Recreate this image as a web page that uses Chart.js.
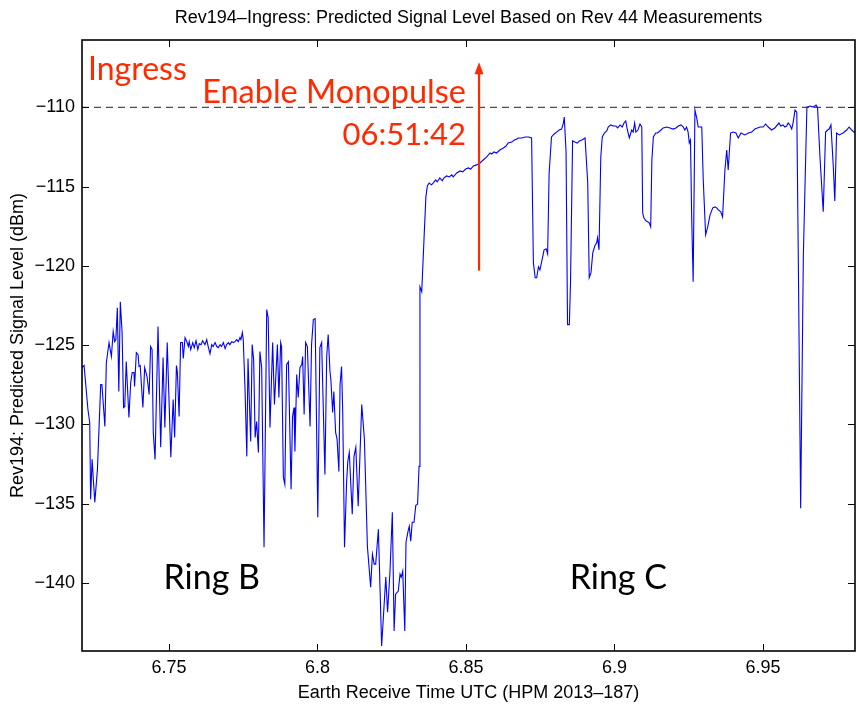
<!DOCTYPE html>
<html>
<head>
<meta charset="utf-8">
<script src="https://cdn.jsdelivr.net/npm/chart.js@4.4.0/dist/chart.umd.min.js"></script>
<style>
  html, body { margin: 0; padding: 0; background: #fff; }
</style>
</head>
<body>
<canvas id="chart" width="856" height="704"></canvas>
<script>
// Earth receive time (hours, HPM 2013-187)
const times = [
  6.7207, 6.7214, 6.7227, 6.7233, 6.7236, 6.7241, 6.7250, 6.7259, 6.7270, 6.7274,
  6.7284, 6.7289, 6.7298, 6.7306, 6.7312, 6.7317, 6.7321, 6.7326, 6.7331, 6.7336,
  6.7342, 6.7347, 6.7351, 6.7356, 6.7365, 6.7371, 6.7376, 6.7382, 6.7384, 6.7390,
  6.7396, 6.7399, 6.7403, 6.7412, 6.7418, 6.7426, 6.7433, 6.7438, 6.7443, 6.7447,
  6.7453, 6.7463, 6.7472, 6.7480, 6.7486, 6.7494, 6.7506, 6.7514, 6.7519, 6.7525,
  6.7528, 6.7534, 6.7539, 6.7545, 6.7548, 6.7554, 6.7560, 6.7565, 6.7568, 6.7573,
  6.7580, 6.7585, 6.7591, 6.7597, 6.7602, 6.7608, 6.7613, 6.7621, 6.7627, 6.7632,
  6.7638, 6.7644, 6.7649, 6.7655, 6.7661, 6.7666, 6.7672, 6.7677, 6.7683, 6.7689,
  6.7694, 6.7700, 6.7705, 6.7711, 6.7717, 6.7722, 6.7728, 6.7733, 6.7739, 6.7742,
  6.7747, 6.7750, 6.7756, 6.7762, 6.7766, 6.7770, 6.7775, 6.7780, 6.7785, 6.7790,
  6.7795, 6.7801, 6.7806, 6.7812, 6.7820, 6.7829, 6.7834, 6.7840, 6.7849, 6.7855,
  6.7865, 6.7870, 6.7876, 6.7879, 6.7885, 6.7890, 6.7896, 6.7902, 6.7911, 6.7916,
  6.7921, 6.7924, 6.7930, 6.7935, 6.7941, 6.7947, 6.7950, 6.7955, 6.7960, 6.7966,
  6.7975, 6.7980, 6.7986, 6.7992, 6.8001, 6.8008, 6.8014, 6.8025, 6.8031, 6.8036,
  6.8042, 6.8045, 6.8051, 6.8055, 6.8061, 6.8066, 6.8072, 6.8076, 6.8081, 6.8085,
  6.8091, 6.8098, 6.8102, 6.8107, 6.8117, 6.8123, 6.8129, 6.8137, 6.8149, 6.8158,
  6.8168, 6.8179, 6.8185, 6.8191, 6.8196, 6.8205, 6.8216, 6.8230, 6.8236, 6.8244,
  6.8252, 6.8258, 6.8263, 6.8272, 6.8278, 6.8282, 6.8287, 6.8294, 6.8298, 6.8305,
  6.8309, 6.8314, 6.8319, 6.8325, 6.8331, 6.8337, 6.8342, 6.8345, 6.8351, 6.8359,
  6.8365, 6.8370, 6.8376, 6.8384, 6.8390, 6.8398, 6.8403, 6.8412, 6.8420, 6.8426,
  6.8435, 6.8444, 6.8452, 6.8457, 6.8469, 6.8480, 6.8489, 6.8499, 6.8508, 6.8516,
  6.8525, 6.8536, 6.8547, 6.8558, 6.8570, 6.8581, 6.8587, 6.8594, 6.8603, 6.8614,
  6.8626, 6.8635, 6.8642, 6.8654, 6.8663, 6.8671, 6.8676, 6.8688, 6.8699, 6.8710,
  6.8721, 6.8727, 6.8733, 6.8738, 6.8744, 6.8749, 6.8755, 6.8763, 6.8770, 6.8775,
  6.8780, 6.8788, 6.8797, 6.8805, 6.8814, 6.8822, 6.8828, 6.8831, 6.8837, 6.8842,
  6.8848, 6.8852, 6.8859, 6.8867, 6.8875, 6.8882, 6.8890, 6.8901, 6.8910, 6.8915,
  6.8921, 6.8927, 6.8934, 6.8940, 6.8943, 6.8948, 6.8954, 6.8959, 6.8966, 6.8974,
  6.8979, 6.8987, 6.8996, 6.9005, 6.9011, 6.9019, 6.9026, 6.9032, 6.9038, 6.9043,
  6.9050, 6.9058, 6.9063, 6.9068, 6.9072, 6.9079, 6.9086, 6.9092, 6.9095, 6.9099,
  6.9106, 6.9112, 6.9117, 6.9122, 6.9126, 6.9131, 6.9139, 6.9145, 6.9153, 6.9164,
  6.9176, 6.9187, 6.9198, 6.9207, 6.9215, 6.9224, 6.9232, 6.9237, 6.9243, 6.9248,
  6.9252, 6.9256, 6.9260, 6.9265, 6.9271, 6.9277, 6.9282, 6.9288, 6.9294, 6.9299,
  6.9307, 6.9314, 6.9322, 6.9331, 6.9339, 6.9344, 6.9350, 6.9358, 6.9364, 6.9372,
  6.9378, 6.9383, 6.9391, 6.9400, 6.9409, 6.9417, 6.9426, 6.9439, 6.9451, 6.9462,
  6.9473, 6.9490, 6.9501, 6.9509, 6.9518, 6.9529, 6.9540, 6.9554, 6.9560, 6.9568,
  6.9574, 6.9580, 6.9585, 6.9591, 6.9597, 6.9602, 6.9608, 6.9614, 6.9619, 6.9627,
  6.9636, 6.9648, 6.9659, 6.9670, 6.9679, 6.9684, 6.9692, 6.9703, 6.9711, 6.9718,
  6.9723, 6.9729, 6.9737, 6.9742, 6.9748, 6.9757, 6.9770, 6.9782, 6.9790, 6.9799,
  6.9810
];

// predicted signal level (dBm)
const levels = [
  -126.42, -126.29, -129.06, -129.88, -134.73, -132.21, -134.92, -132.84, -127.49, -127.49,
  -130.13, -126.10, -124.84, -125.72, -124.15, -124.78, -124.65, -122.64, -127.93, -122.26,
  -124.21, -128.94, -128.87, -126.04, -129.57, -127.36, -126.73, -126.73, -127.61, -125.47,
  -125.60, -126.35, -126.29, -128.94, -126.42, -126.98, -128.12, -125.09, -125.28, -130.51,
  -132.21, -123.83, -131.45, -125.79, -130.20, -124.84, -132.08, -128.43, -130.83, -126.29,
  -126.67, -129.50, -124.84, -124.84, -125.85, -124.53, -124.78, -125.09, -124.78, -125.28,
  -124.84, -125.16, -124.72, -125.28, -124.91, -124.97, -124.72, -124.97, -124.65, -125.09,
  -125.54, -124.97, -125.09, -124.84, -125.09, -125.16, -124.97, -125.09, -124.84, -125.22,
  -124.97, -124.84, -124.97, -124.78, -124.84, -124.78, -124.65, -124.78, -124.53, -124.65,
  -124.21, -124.65, -127.80, -132.02, -125.85, -128.24, -131.08, -124.97, -125.91, -130.83,
  -129.82, -131.77, -125.41, -126.42, -137.75, -122.76, -123.27, -130.20, -124.84, -128.75,
  -124.97, -128.31, -124.84, -125.09, -133.34, -133.78, -126.23, -126.04, -134.10, -129.50,
  -128.94, -131.71, -126.86, -128.31, -126.42, -126.23, -125.72, -129.38, -124.84, -125.09,
  -130.13, -124.97, -123.39, -123.33, -135.86, -125.16, -124.84, -133.16, -125.72, -124.34,
  -126.67, -127.17, -129.25, -127.93, -130.51, -130.95, -132.97, -127.49, -126.35, -129.25,
  -137.75, -133.66, -132.34, -131.77, -135.67, -132.02, -131.45, -135.17, -128.75, -130.95,
  -137.69, -140.27, -138.19, -138.82, -138.82, -136.62, -143.99, -139.64, -141.85, -139.33,
  -135.55, -143.04, -140.71, -140.52, -139.45, -139.64, -139.26, -143.04, -137.44, -136.74,
  -136.43, -137.37, -136.18, -136.18, -135.11, -135.04, -132.65, -121.32, -121.63, -118.17,
  -115.65, -114.96, -114.77, -114.89, -114.77, -114.58, -114.70, -114.45, -114.64, -114.45,
  -114.33, -114.39, -114.26, -114.39, -114.14, -114.01, -114.07, -113.89, -113.82, -113.89,
  -113.70, -113.63, -113.51, -113.32, -113.13, -112.88, -112.94, -112.81, -112.88, -112.69,
  -112.56, -112.44, -112.25, -112.19, -112.06, -112.00, -111.93, -111.93, -111.87, -111.87,
  -111.93, -119.80, -120.75, -120.75, -120.06, -120.25, -119.74, -118.99, -118.92, -119.24,
  -114.14, -111.87, -111.68, -111.56, -111.43, -111.37, -110.99, -110.61, -112.81, -123.71,
  -123.71, -121.06, -112.12, -112.19, -112.25, -112.12, -112.06, -111.93, -114.77, -120.75,
  -120.43, -119.18, -118.73, -118.55, -118.23, -118.99, -113.13, -111.87, -111.62, -111.49,
  -111.24, -111.11, -111.18, -111.18, -111.30, -111.11, -111.24, -110.99, -110.86, -111.37,
  -111.93, -111.43, -111.56, -110.99, -111.56, -111.43, -111.05, -111.24, -116.66, -116.97,
  -117.16, -117.22, -117.29, -117.54, -113.32, -111.87, -111.62, -111.62, -111.49, -111.30,
  -111.24, -111.30, -111.37, -111.30, -111.18, -111.11, -111.24, -111.43, -111.24, -111.56,
  -112.25, -112.06, -116.91, -121.00, -110.17, -110.67, -111.24, -111.24, -111.24, -114.58,
  -118.04, -117.54, -116.78, -116.34, -116.28, -116.34, -116.47, -116.59, -116.91, -113.95,
  -112.69, -113.95, -111.62, -111.56, -111.62, -111.93, -111.62, -111.74, -111.62, -111.56,
  -111.37, -111.24, -111.24, -111.05, -111.24, -111.43, -111.30, -110.99, -111.18, -111.11,
  -111.24, -111.18, -110.99, -111.11, -111.37, -110.93, -110.17, -110.30, -119.43, -135.30,
  -119.43, -109.98, -109.92, -109.98, -109.86, -110.04, -113.13, -116.59, -111.56, -111.43,
  -111.37, -111.11, -113.76, -115.90, -111.62, -111.74, -111.62, -111.43, -111.24, -111.43,
  -111.62
];

const xTicks = [6.75, 6.8, 6.85, 6.9, 6.95];
const xTickLabels = ['6.75', '6.8', '6.85', '6.9', '6.95'];
const yTicks = [-140, -135, -130, -125, -120, -115, -110];
const xLimits = [6.7207, 6.981];
const yLimits = [-144.3, -105.75];
const threshold = -110;

// monopulse enable marker
const monopulseTime = 6.8544;
const arrowBase = -120.3;
const arrowTip = -107.15;

const red = '#ff2a00';
const chartTitle = 'Rev194\u2013Ingress: Predicted Signal Level Based on Rev 44 Measurements';

const notes = [
  { text: 'Ingress', t: 6.7227, v: -108.28, align: 'left', color: red, size: 32 },
  { text: 'Enable Monopulse', t: 6.8500, v: -109.75, align: 'right', color: red, size: 32.5 },
  { text: '06:51:42', t: 6.8500, v: -112.37, align: 'right', color: red, size: 31 },
  { text: 'Ring B', t: 6.7644, v: -140.4, align: 'center', color: '#000', size: 34 },
  { text: 'Ring C', t: 6.9013, v: -140.4, align: 'center', color: '#000', size: 34 }
];

Chart.defaults.font.family = '"Liberation Sans", Arial, sans-serif';
Chart.defaults.font.size = 18;
Chart.defaults.color = '#000';

const matlabFrame = {
  id: 'matlabFrame',
  afterDraw(chart) {
    const { ctx, chartArea: area, scales: { x, y } } = chart;
    ctx.save();

    // inward ticks on all four sides
    ctx.strokeStyle = '#000';
    ctx.lineWidth = 1;
    ctx.beginPath();
    xTicks.forEach(v => {
      const px = Math.round(x.getPixelForValue(v)) + 0.5;
      ctx.moveTo(px, area.bottom);
      ctx.lineTo(px, area.bottom - 7);
      ctx.moveTo(px, area.top);
      ctx.lineTo(px, area.top + 7);
    });
    yTicks.forEach(v => {
      const py = Math.round(y.getPixelForValue(v)) + 0.5;
      ctx.moveTo(area.left, py);
      ctx.lineTo(area.left + 7, py);
      ctx.moveTo(area.right, py);
      ctx.lineTo(area.right - 7, py);
    });
    ctx.stroke();
    ctx.lineWidth = 1.6;
    ctx.strokeRect(area.left, area.top, area.right - area.left, area.bottom - area.top);

    ctx.fillStyle = '#000';
    ctx.font = '18px "Liberation Sans", Arial, sans-serif';
    ctx.textAlign = 'center';
    ctx.textBaseline = 'middle';
    ctx.fillText(chartTitle, (area.left + area.right) / 2, 18);

    // arrow
    const ax = x.getPixelForValue(monopulseTime);
    const top = y.getPixelForValue(arrowTip);
    const bottom = y.getPixelForValue(arrowBase);
    ctx.strokeStyle = red;
    ctx.fillStyle = red;
    ctx.lineWidth = 2.2;
    ctx.beginPath();
    ctx.moveTo(ax, bottom);
    ctx.lineTo(ax, top + 8);
    ctx.stroke();
    ctx.beginPath();
    ctx.moveTo(ax, top);
    ctx.lineTo(ax - 4.5, top + 12);
    ctx.lineTo(ax + 4.5, top + 12);
    ctx.closePath();
    ctx.fill();

    ctx.textBaseline = 'alphabetic';
    notes.forEach(n => {
      ctx.font = n.size + 'px Lato, "Noto Sans", sans-serif';
      ctx.fillStyle = n.color;
      ctx.textAlign = n.align;
      ctx.fillText(n.text, x.getPixelForValue(n.t), y.getPixelForValue(n.v));
    });
    ctx.restore();
  }
};

new Chart(document.getElementById('chart'), {
  type: 'line',
  data: {
    datasets: [
      {
        label: 'signal',
        data: times.map((t, i) => ({ x: t, y: levels[i] })),
        borderColor: '#0000ff',
        borderWidth: 1.1,
        pointRadius: 0,
        tension: 0
      },
      {
        label: 'threshold',
        data: xLimits.map(t => ({ x: t, y: threshold })),
        borderColor: '#4d4d4d',
        borderWidth: 1.2,
        borderDash: [7, 5],
        pointRadius: 0
      }
    ]
  },
  options: {
    responsive: false,
    animation: false,
    layout: { padding: { top: 40, right: 1, left: 0, bottom: 0 } },
    plugins: { legend: { display: false }, tooltip: { enabled: false } },
    scales: {
      x: {
        type: 'linear',
        min: xLimits[0],
        max: xLimits[1],
        grid: { display: false, drawTicks: false, tickLength: 0 },
        border: { display: false },
        afterBuildTicks: s => { s.ticks = xTicks.map(v => ({ value: v })); },
        afterFit: s => { s.height = 53; },
        ticks: {
          padding: 6,
          maxRotation: 0,
          autoSkip: false,
          callback: (v, i) => xTickLabels[i]
        },
        title: {
          display: true,
          text: 'Earth Receive Time UTC (HPM 2013\u2013187)',
          padding: { top: 4, bottom: 0 }
        }
      },
      y: {
        type: 'linear',
        min: yLimits[0],
        max: yLimits[1],
        grid: { display: false, drawTicks: false, tickLength: 0 },
        border: { display: false },
        afterBuildTicks: s => { s.ticks = yTicks.map(v => ({ value: v })); },
        afterFit: s => { s.width = 82; },
        ticks: {
          padding: 7,
          autoSkip: false,
          callback: v => '\u2212' + Math.abs(v)
        },
        title: {
          display: true,
          text: 'Rev194: Predicted Signal Level (dBm)',
          padding: { top: 7, bottom: 0 }
        }
      }
    }
  },
  plugins: [matlabFrame]
});
</script>
</body>
</html>
